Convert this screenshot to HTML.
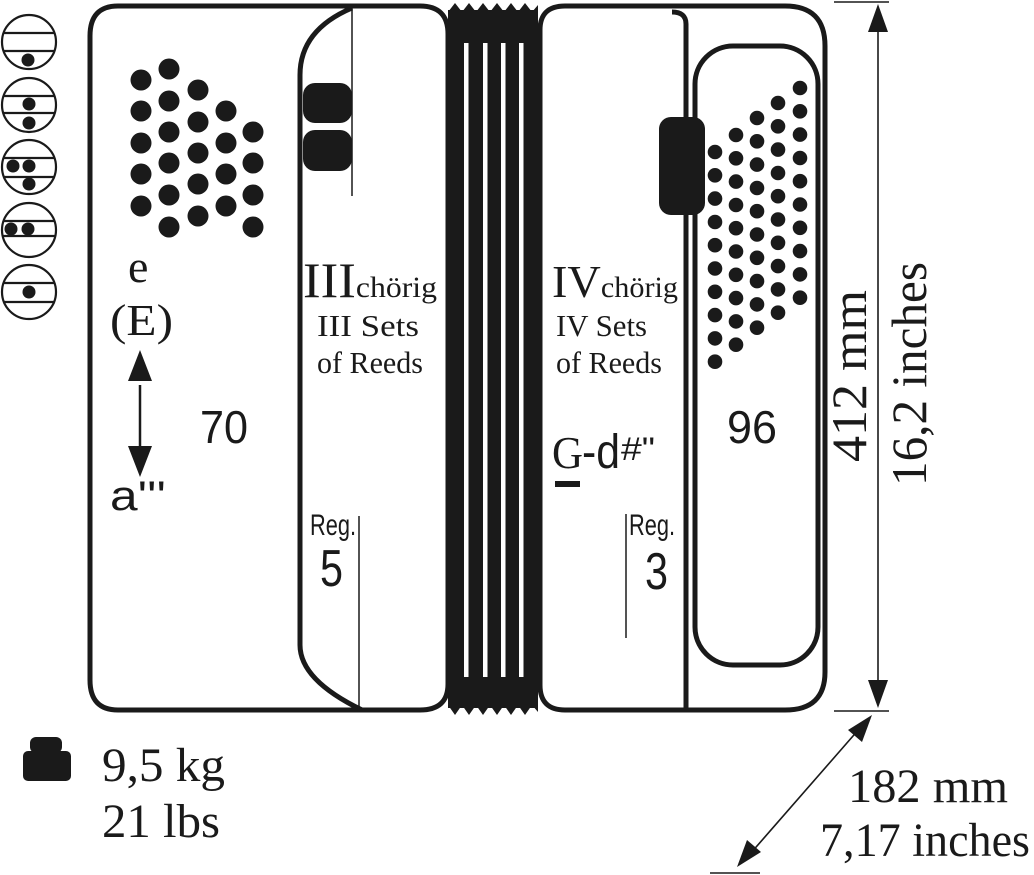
<!DOCTYPE html>
<html><head><meta charset="utf-8"><style>html,body{margin:0;padding:0;background:#fff}svg{display:block}</style></head><body>
<svg width="1034" height="875" viewBox="0 0 1034 875" xmlns="http://www.w3.org/2000/svg">
<g fill="none" stroke="#1a1a1a" stroke-width="2.2">
<circle cx="29" cy="42" r="27"/><line x1="3" y1="33" x2="55" y2="33"/><line x1="3" y1="51" x2="55" y2="51"/>
<circle cx="29" cy="105" r="27"/><line x1="3" y1="96" x2="55" y2="96"/><line x1="3" y1="113" x2="55" y2="113"/>
<circle cx="29" cy="167" r="27"/><line x1="3" y1="158" x2="55" y2="158"/><line x1="3" y1="177" x2="55" y2="177"/>
<circle cx="29" cy="230" r="27"/><line x1="3" y1="221" x2="55" y2="221"/><line x1="3" y1="236" x2="55" y2="236"/>
<circle cx="29" cy="292" r="27"/><line x1="3" y1="283" x2="55" y2="283"/><line x1="3" y1="302" x2="55" y2="302"/>
</g>
<g fill="#1a1a1a">
<circle cx="28" cy="60" r="6.5"/>
<circle cx="29" cy="104" r="6.5"/><circle cx="29" cy="123" r="6.5"/>
<circle cx="13" cy="166" r="6.5"/><circle cx="29" cy="166" r="6.5"/><circle cx="29" cy="184" r="6.5"/>
<circle cx="11" cy="229" r="6.5"/><circle cx="28" cy="229" r="6.5"/>
<circle cx="29" cy="292" r="6.5"/>
</g>
<g fill="none" stroke="#1a1a1a" stroke-width="5">
<path d="M118,6 H420 Q448,6 448,34 V684 Q448,710 420,710 H118 Q90,710 90,680 V36 Q90,6 118,6 Z"/>
<path d="M352,8 Q300,30 300,75 V645 Q300,680 362,710"/>
<path d="M565,6 H785 Q825,6 825,46 V672 Q825,710 785,710 H565 Q540,710 540,685 V30 Q540,6 565,6 Z"/>
<path d="M672,12 Q686,12 686,24 V708"/>
<rect x="695" y="46" width="123" height="619" rx="38"/>
</g>
<g stroke="#1a1a1a" stroke-width="1.5">
<line x1="352" y1="8" x2="352" y2="196"/>
<line x1="359" y1="516" x2="359" y2="710"/>
<line x1="626" y1="514" x2="626" y2="638"/>
</g>
<rect x="448" y="10" width="90" height="698" fill="#1a1a1a"/>
<path d="M448,12 L455,3 L462,12 L469,3 L476,12 L483,3 L490,12 L497,3 L504,12 L511,3 L518,12 L525,3 L532,12 L538,5 L538,14 L448,14Z" fill="#1a1a1a"/>
<path d="M448,705 L455,715 L462,705 L469,715 L476,705 L483,715 L490,705 L497,715 L504,705 L511,715 L518,705 L525,715 L532,705 L538,712 L538,700 L448,700Z" fill="#1a1a1a"/>
<g fill="#fff">
<rect x="464" y="43" width="4.5" height="634"/><rect x="483" y="43" width="4.5" height="634"/>
<rect x="501" y="43" width="4.5" height="634"/><rect x="519" y="43" width="4.5" height="634"/>
</g>
<g fill="#1a1a1a">
<rect x="303" y="83" width="49" height="40" rx="12"/>
<rect x="303" y="130" width="49" height="41" rx="12"/>
<rect x="659" y="117" width="46" height="98" rx="12"/>
</g>
<g fill="#1a1a1a">
<circle cx="141" cy="80" r="10.5"/><circle cx="141" cy="111" r="10.5"/><circle cx="141" cy="143" r="10.5"/><circle cx="141" cy="174" r="10.5"/><circle cx="141" cy="206" r="10.5"/>
<circle cx="169" cy="69" r="10.5"/><circle cx="169" cy="101" r="10.5"/><circle cx="169" cy="132" r="10.5"/><circle cx="169" cy="163" r="10.5"/><circle cx="169" cy="195" r="10.5"/><circle cx="169" cy="227" r="10.5"/>
<circle cx="198" cy="90" r="10.5"/><circle cx="198" cy="122" r="10.5"/><circle cx="198" cy="153" r="10.5"/><circle cx="198" cy="184" r="10.5"/><circle cx="198" cy="216" r="10.5"/>
<circle cx="226" cy="111" r="10.5"/><circle cx="226" cy="143" r="10.5"/><circle cx="226" cy="174" r="10.5"/><circle cx="226" cy="206" r="10.5"/>
<circle cx="253" cy="132" r="10.5"/><circle cx="253" cy="163" r="10.5"/><circle cx="253" cy="195" r="10.5"/><circle cx="253" cy="227" r="10.5"/>
</g>
<g fill="#1a1a1a">
<circle cx="715" cy="152" r="7.3"/><circle cx="715" cy="175.3" r="7.3"/><circle cx="715" cy="198.6" r="7.3"/><circle cx="715" cy="222" r="7.3"/><circle cx="715" cy="245.2" r="7.3"/><circle cx="715" cy="268.5" r="7.3"/><circle cx="715" cy="291.8" r="7.3"/><circle cx="715" cy="315.1" r="7.3"/><circle cx="715" cy="338.4" r="7.3"/><circle cx="715" cy="361.7" r="7.3"/>
<circle cx="736" cy="135" r="7.3"/><circle cx="736" cy="158.3" r="7.3"/><circle cx="736" cy="181.6" r="7.3"/><circle cx="736" cy="205" r="7.3"/><circle cx="736" cy="228.2" r="7.3"/><circle cx="736" cy="251.5" r="7.3"/><circle cx="736" cy="274.8" r="7.3"/><circle cx="736" cy="298.1" r="7.3"/><circle cx="736" cy="321.4" r="7.3"/><circle cx="736" cy="344.7" r="7.3"/>
<circle cx="757" cy="118" r="7.3"/><circle cx="757" cy="141.3" r="7.3"/><circle cx="757" cy="164.6" r="7.3"/><circle cx="757" cy="188" r="7.3"/><circle cx="757" cy="211.2" r="7.3"/><circle cx="757" cy="234.5" r="7.3"/><circle cx="757" cy="257.8" r="7.3"/><circle cx="757" cy="281.1" r="7.3"/><circle cx="757" cy="304.4" r="7.3"/><circle cx="757" cy="327.7" r="7.3"/>
<circle cx="778" cy="103" r="7.3"/><circle cx="778" cy="126.3" r="7.3"/><circle cx="778" cy="149.6" r="7.3"/><circle cx="778" cy="173" r="7.3"/><circle cx="778" cy="196.2" r="7.3"/><circle cx="778" cy="219.5" r="7.3"/><circle cx="778" cy="242.8" r="7.3"/><circle cx="778" cy="266.1" r="7.3"/><circle cx="778" cy="289.4" r="7.3"/><circle cx="778" cy="312.7" r="7.3"/>
<circle cx="800" cy="88" r="7.3"/><circle cx="800" cy="111.3" r="7.3"/><circle cx="800" cy="134.6" r="7.3"/><circle cx="800" cy="158" r="7.3"/><circle cx="800" cy="181.2" r="7.3"/><circle cx="800" cy="204.5" r="7.3"/><circle cx="800" cy="227.8" r="7.3"/><circle cx="800" cy="251.1" r="7.3"/><circle cx="800" cy="274.4" r="7.3"/><circle cx="800" cy="297.7" r="7.3"/>
</g>
<line x1="140" y1="385" x2="140" y2="450" stroke="#1a1a1a" stroke-width="2.5"/>
<path d="M128,381 L140,350 L152,381Z M128,446 L140,477 L152,446Z" fill="#1a1a1a"/>
<g font-family="'Liberation Serif',serif" fill="#1a1a1a">
<text x="128" y="282" font-size="46">e</text>
<text x="110" y="335" font-size="44" textLength="63" lengthAdjust="spacingAndGlyphs">(E)</text>
<text x="303" y="297" font-size="50" textLength="134" lengthAdjust="spacingAndGlyphs">III<tspan font-size="30">chörig</tspan></text>
<text x="317" y="336" font-size="31" textLength="102" lengthAdjust="spacingAndGlyphs">III Sets</text>
<text x="317" y="373" font-size="31" textLength="106" lengthAdjust="spacingAndGlyphs">of Reeds</text>
<text x="552" y="297" font-size="46" textLength="126" lengthAdjust="spacingAndGlyphs">IV<tspan font-size="30">chörig</tspan></text>
<text x="556" y="336" font-size="31" textLength="91" lengthAdjust="spacingAndGlyphs">IV Sets</text>
<text x="556" y="373" font-size="31" textLength="106" lengthAdjust="spacingAndGlyphs">of Reeds</text>
<text x="552" y="468" font-size="45" textLength="31" lengthAdjust="spacingAndGlyphs">G</text>
<text x="102" y="781" font-size="48" textLength="123" lengthAdjust="spacingAndGlyphs">9,5 kg</text>
<text x="102" y="837" font-size="48" textLength="118" lengthAdjust="spacingAndGlyphs">21 lbs</text>
<text x="848" y="802" font-size="48" textLength="160" lengthAdjust="spacingAndGlyphs">182 mm</text>
<text x="820" y="856" font-size="48" textLength="210" lengthAdjust="spacingAndGlyphs">7,17 inches</text>
<text transform="translate(866,462) rotate(-90)" font-size="50" textLength="172" lengthAdjust="spacingAndGlyphs">412 mm</text>
<text transform="translate(926,486) rotate(-90)" font-size="50" textLength="224" lengthAdjust="spacingAndGlyphs">16,2 inches</text>
</g>
<g font-family="'Liberation Sans',sans-serif" fill="#1a1a1a">
<text x="200" y="443" font-size="46" textLength="48" lengthAdjust="spacingAndGlyphs">70</text>
<text x="727" y="443" font-size="46" textLength="50" lengthAdjust="spacingAndGlyphs">96</text>
<text x="110" y="510" font-size="42" textLength="56" lengthAdjust="spacingAndGlyphs">a'''</text>
<text x="310" y="535" font-size="30" textLength="46" lengthAdjust="spacingAndGlyphs">Reg.</text>
<text x="320" y="586" font-size="52" textLength="23" lengthAdjust="spacingAndGlyphs">5</text>
<text x="629" y="535" font-size="30" textLength="46" lengthAdjust="spacingAndGlyphs">Reg.</text>
<text x="645" y="589" font-size="52" textLength="23" lengthAdjust="spacingAndGlyphs">3</text>
<text x="582" y="468" font-size="48" textLength="38" lengthAdjust="spacingAndGlyphs">-d</text>
<text x="621" y="460" font-size="32" textLength="34" lengthAdjust="spacingAndGlyphs">#"</text>
</g>
<rect x="555" y="481" width="25" height="6" fill="#1a1a1a"/>
<g fill="#1a1a1a">
<rect x="30" y="737" width="32" height="16" rx="6"/>
<rect x="23" y="751" width="48" height="30" rx="5"/>
</g>
<g stroke="#1a1a1a" stroke-width="1.6">
<line x1="834" y1="2" x2="889" y2="2"/>
<line x1="834" y1="711" x2="889" y2="711"/>
<line x1="878" y1="25" x2="878" y2="685"/>
<line x1="710" y1="873" x2="760" y2="873"/>
<line x1="860" y1="728" x2="750" y2="854"/>
</g>
<g fill="#1a1a1a">
<path d="M868,32 L878,4 L888,32Z"/>
<path d="M868,680 L878,708 L888,680Z"/>
<path d="M872,715 L862,742 L848,730Z"/>
<path d="M737,867 L747,840 L761,852Z"/>
</g>
</svg>
</body></html>
